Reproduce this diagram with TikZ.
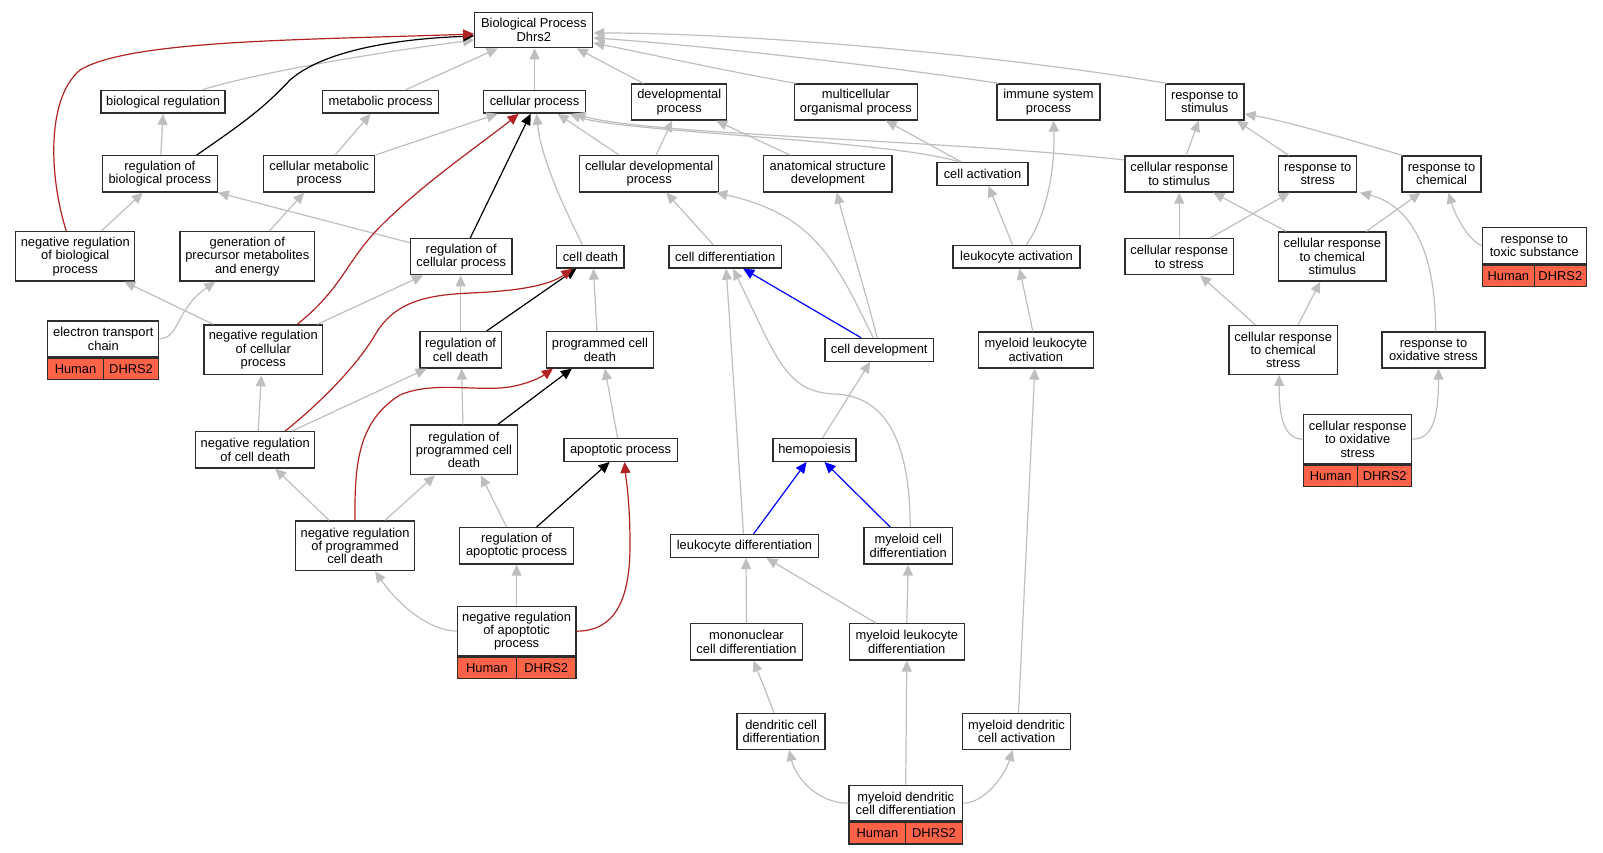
\documentclass[tikz,border=0pt]{standalone}
\usepackage{fontspec}
\setmainfont{Liberation Sans}
\usetikzlibrary{arrows.meta,calc}
\newcommand\gofont{\fontsize{12.9}{13.4}\selectfont}
\definecolor{boxc}{RGB}{45,45,45}
\definecolor{edgegrey}{RGB}{190,190,190}
\definecolor{tomatoc}{RGB}{255,99,71}
\definecolor{redc}{RGB}{178,34,34}
\definecolor{bluec}{RGB}{0,0,255}
\tikzset{
  gobox/.style={draw=boxc, line width=1.3pt, fill=white, inner sep=0pt, align=center, font=\gofont},
  wh/.style 2 args={minimum width=#1pt, minimum height=#2pt},
  genecell/.style={draw=boxc, line width=1.3pt, fill=tomatoc, inner sep=0pt, font=\gofont, minimum height=21.6pt},
  tipa/.style={-{Triangle[length=11pt,width=10pt]}},
  ge/.style={draw=edgegrey, line width=1.2pt, tipa},
  be/.style={draw=black, line width=1.2pt, tipa},
  re/.style={draw=redc, line width=1.2pt, tipa},
  ue/.style={draw=bluec, line width=1.2pt, tipa},
}
\begin{document}
\begin{tikzpicture}[x=1pt,y=-1pt]
\useasboundingbox (0,0) rectangle (1603,853);
% nodes
\node[gobox, wh={118}{35.4}] (bp) at (533.8,30) {Biological Process\\Dhrs2};
\node[gobox, wh={124}{22.7}] (breg) at (163.1,101.8) {biological regulation};
\node[gobox, wh={116}{22.7}] (met) at (380.6,101.8) {metabolic process};
\node[gobox, wh={101.6}{22.7}] (cp) at (534.6,101.8) {cellular process};
\node[gobox, wh={95}{36}] (dev) at (679.2,102) {developmental\\process};
\node[gobox, wh={123}{36}] (multi) at (855.8,102) {multicellular\\organismal process};
\node[gobox, wh={103}{36}] (imm) at (1048.5,102) {immune system\\process};
\node[gobox, wh={78.7}{36}] (rstim) at (1204.7,102) {response to\\stimulus};
\node[gobox, wh={114.8}{36.3}] (rbp) at (159.8,173.8) {regulation of\\biological process};
\node[gobox, wh={111}{36.3}] (cmp) at (319.2,173.8) {cellular metabolic\\process};
\node[gobox, wh={139}{36.3}] (cdp) at (649.2,173.8) {cellular developmental\\process};
\node[gobox, wh={128.3}{36.3}] (asd) at (827.8,173.8) {anatomical structure\\development};
\node[gobox, wh={91}{22.7}] (cact) at (982.5,174) {cell activation};
\node[gobox, wh={108.3}{36}] (crs) at (1179.2,174) {cellular response\\to stimulus};
\node[gobox, wh={78}{36}] (rstr) at (1317.7,174) {response to\\stress};
\node[gobox, wh={79}{36}] (rchem) at (1441.5,174) {response to\\chemical};
\node[gobox, wh={119}{49.3}] (nrbp) at (75.3,256.3) {negative regulation\\of biological\\process};
\node[gobox, wh={134.8}{49.3}] (gen) at (247.3,256.3) {generation of\\precursor metabolites\\and energy};
\node[gobox, wh={101.6}{36}] (rcp) at (461.2,256.7) {regulation of\\cellular process};
\node[gobox, wh={67.2}{22.7}] (cd) at (590.4,256.7) {cell death};
\node[gobox, wh={112.3}{22.7}] (cdiff) at (725.2,256.7) {cell differentiation};
\node[gobox, wh={127}{22.7}] (lact) at (1016.5,256.7) {leukocyte activation};
\node[gobox, wh={108.3}{36}] (crstr) at (1179.2,256.7) {cellular response\\to stress};
\node[gobox, wh={107.3}{49}] (crcs) at (1332.3,256.5) {cellular response\\to chemical\\stimulus};
\node[gobox, wh={104}{36}] (rtox) at (1534.3,245.7) {response to\\toxic substance};
\node[genecell, minimum width=52pt, anchor=north west] (rtoxH) at (rtox.south west) {Human};
\node[genecell, minimum width=52pt, anchor=north east] (rtoxD) at (rtox.south east) {DHRS2};
\node[gobox, wh={111}{35.7}] (etc) at (103.3,338.8) {electron transport\\chain};
\node[genecell, minimum width=55.5pt, anchor=north west] (etcH) at (etc.south west) {Human};
\node[genecell, minimum width=55.5pt, anchor=north east] (etcD) at (etc.south east) {DHRS2};
\node[gobox, wh={118.6}{49.7}] (nrcp) at (263.3,349.8) {negative regulation\\of cellular\\process};
\node[gobox, wh={81.2}{36.3}] (rcd) at (460.6,349.8) {regulation of\\cell death};
\node[gobox, wh={107}{36.3}] (pcd) at (599.9,349.8) {programmed cell\\death};
\node[gobox, wh={108.3}{22.7}] (cdev) at (879.2,349.8) {cell development};
\node[gobox, wh={115}{36}] (mlact) at (1035.8,350) {myeloid leukocyte\\activation};
\node[gobox, wh={108.3}{49}] (crcst) at (1283.2,349.8) {cellular response\\to chemical\\stress};
\node[gobox, wh={103}{36}] (rox) at (1433.5,350) {response to\\oxidative stress};
\node[gobox, wh={119}{36.3}] (nrcd) at (255.2,449.8) {negative regulation\\of cell death};
\node[gobox, wh={107}{49.7}] (rpcd) at (463.9,449.8) {regulation of\\programmed cell\\death};
\node[gobox, wh={113.5}{22.7}] (apo) at (620.6,450) {apoptotic process};
\node[gobox, wh={83}{22.7}] (hemo) at (814.5,450) {hemopoiesis};
\node[gobox, wh={108}{49}] (crox) at (1357.7,439.2) {cellular response\\to oxidative\\stress};
\node[genecell, minimum width=54pt, anchor=north west] (croxH) at (crox.south west) {Human};
\node[genecell, minimum width=54pt, anchor=north east] (croxD) at (crox.south east) {DHRS2};
\node[gobox, wh={119}{49.7}] (nrpcd) at (355.1,545.8) {negative regulation\\of programmed\\cell death};
\node[gobox, wh={113.6}{36.3}] (rap) at (516.6,545.8) {regulation of\\apoptotic process};
\node[gobox, wh={148.3}{22.7}] (ldiff) at (744.5,546) {leukocyte differentiation};
\node[gobox, wh={88.3}{36.3}] (mcdiff) at (908.2,545.8) {myeloid cell\\differentiation};
\node[gobox, wh={118.6}{49}] (nrap) at (516.6,631.2) {negative regulation\\of apoptotic\\process};
\node[genecell, minimum width=59.3pt, anchor=north west] (nrapH) at (nrap.south west) {Human};
\node[genecell, minimum width=59.3pt, anchor=north east] (nrapD) at (nrap.south east) {DHRS2};
\node[gobox, wh={112.4}{36.3}] (mono) at (746.5,641.8) {mononuclear\\cell differentiation};
\node[gobox, wh={115.3}{36.3}] (mldiff) at (906.8,641.8) {myeloid leukocyte\\differentiation};
\node[gobox, wh={88}{36}] (dcd) at (781.1,731.3) {dendritic cell\\differentiation};
\node[gobox, wh={108}{36}] (mdca) at (1016.5,731.3) {myeloid dendritic\\cell activation};
\node[gobox, wh={113.2}{35.7}] (mdcd) at (905.7,803.2) {myeloid dendritic\\cell differentiation};
\node[genecell, minimum width=56.6pt, anchor=north west] (mdcdH) at (mdcd.south west) {Human};
\node[genecell, minimum width=56.6pt, anchor=north east] (mdcdD) at (mdcd.south east) {DHRS2};
% edges to Biological Process
\draw[ge] ($(breg.north)+(39,0)$) .. controls (260,72) and (380,52) .. ($(bp.west)+(0,10)$);
\draw[ge] ($(met.north)+(25,0)$) -- ($(bp.south)+(-36,0)$);
\draw[ge] (cp.north) -- (cp.north |- bp.south);
\draw[ge] ($(dev.north)+(-36,0)$) -- ($(bp.south)+(43,0)$);
\draw[ge] ($(multi.north)+(-60,0)$) .. controls (720,70) and (640,52) .. ($(bp.east)+(0,13)$);
\draw[ge] ($(imm.north)+(-50,0)$) .. controls (900,68) and (700,45) .. ($(bp.east)+(0,8)$);
\draw[ge] ($(rstim.north)+(-38,0)$) .. controls (1000,55) and (750,33) .. ($(bp.east)+(0,3)$);
\draw[be] ($(rbp.north)+(37,0)$) .. controls (240,125) and (262,110) .. (290,80) .. controls (330,45) and (420,38) .. ($(bp.west)+(0,6)$);
\draw[re] ($(nrbp.north)+(-9,0)$) .. controls (50,180) and (45,100) .. (80,70) .. controls (130,40) and (300,40) .. ($(bp.west)+(0,4)$);
% row 3 -> row 2
\draw[ge] ($(rbp.north)+(1,0)$) -- (breg.south);
\draw[ge] ($(cmp.north)+(16,0)$) -- ($(met.south)+(-10,0)$);
\draw[ge] (cmp.north east) -- ($(cp.south)+(-37,0)$);
\draw[ge] ($(cdp.north west)+(40,0)$) -- ($(cp.south)+(23,0)$);
\draw[ge] ($(cdp.north)+(7,0)$) -- ($(dev.south)+(-7,0)$);
\draw[ge] ($(asd.north)+(-38,0)$) -- ($(dev.south)+(37,0)$);
\draw[ge] ($(cact.north)+(-21,0)$) -- ($(multi.south)+(30,0)$);
\draw[ge] ($(cact.north)+(-23,0)$) .. controls (890,140) and (620,132) .. ($(cp.south)+(35,0)$);
\draw[ge] ($(crs.west)+(0,-14)$) .. controls (950,140) and (650,135) .. ($(cp.south)+(40,0)$);
\draw[ge] ($(crs.north)+(7,0)$) -- ($(rstim.south)+(-6,0)$);
\draw[ge] ($(rstr.north)+(-29,0)$) -- ($(rstim.south)+(32,0)$);
\draw[ge] ($(rchem.north)+(-39,0)$) .. controls (1350,140) and (1290,122) .. ($(rstim.east)+(0,12)$);
% row 4
\draw[ge] ($(nrbp.north)+(26,0)$) -- ($(rbp.south)+(-17,0)$);
\draw[ge] ($(gen.north)+(22,0)$) -- ($(cmp.south)+(-15,0)$);
\draw[ge] ($(rcp.west)+(0,-14)$) -- (rbp.south east);
\draw[be] ($(rcp.north)+(9,0)$) -- ($(cp.south)+(-4,0)$);
\draw[ge] ($(cd.north)+(-8,0)$) .. controls (555,190) and (540,150) .. ($(cp.south)+(2,0)$);
\draw[ge] ($(cdiff.north)+(-12,0)$) -- ($(cdp.south)+(17,0)$);
\draw[ge] ($(lact.north)+(-4,0)$) -- ($(cact.south)+(6,0)$);
\draw[ge] ($(lact.north)+(10,0)$) .. controls (1050,210) and (1055,160) .. ($(imm.south)+(5,0)$);
\draw[ge] (crstr.north) -- (crs.south);
\draw[ge] ($(crstr.north)+(31,0)$) -- ($(rstr.south)+(-28,0)$);
\draw[ge] ($(crcs.north)+(-46,0)$) -- ($(crs.south)+(34,0)$);
\draw[ge] ($(crcs.north)+(34,0)$) -- ($(rchem.south)+(-21,0)$);
\draw[ge] (rtox.west) .. controls (1468,240) and (1455,215) .. ($(rchem.south)+(7,0)$);
% row 5
\draw[ge] (etc.east) .. controls (180,338) and (175,310) .. ($(gen.south)+(-32,0)$);
\draw[ge] ($(nrcp.north)+(-50,0)$) -- ($(nrbp.south)+(49,0)$);
\draw[ge] ($(nrcp.north)+(54,0)$) -- ($(rcp.south)+(-38,0)$);
\draw[re] ($(nrcp.north)+(34,0)$) .. controls (340,290) and (345,265) .. (375,232) .. controls (420,185) and (480,145) .. ($(cp.south)+(-16,0)$);
\draw[ge] (rcd.north) -- (rcd.north |- rcp.south);
\draw[be] ($(rcd.north)+(26,0)$) -- ($(cd.south)+(-14,0)$);
\draw[ge] ($(pcd.north)+(-3,0)$) -- ($(cd.south)+(3,0)$);
\draw[ge] ($(cdev.north)+(-6,0)$) .. controls (835,260) and (815,215) .. ($(cdp.south)+(67,0)$);
\draw[ge] ($(cdev.north)+(-2,0)$) .. controls (865,290) and (845,225) .. ($(asd.south)+(9,0)$);
\draw[ue] ($(cdev.north)+(-18,0)$) -- ($(cdiff.south)+(18,0)$);
\draw[ge] ($(mlact.north)+(-3,0)$) -- ($(lact.south)+(3,0)$);
\draw[ge] ($(crcst.north)+(-28,0)$) -- ($(crstr.south)+(21,0)$);
\draw[ge] ($(crcst.north)+(15,0)$) -- ($(crcs.south)+(-12,0)$);
\draw[ge] ($(rox.north)+(2,0)$) .. controls (1436,250) and (1410,205) .. ($(rstr.south)+(42,0)$);
% row 6
\draw[ge] ($(nrcd.north)+(3,0)$) -- ($(nrcp.south)+(-2,0)$);
\draw[ge] ($(nrcd.north)+(37,0)$) -- ($(rcd.south)+(-34,0)$);
\draw[re] ($(nrcd.north)+(30,0)$) .. controls (330,395) and (360,360) .. (375,335) .. controls (395,300) and (430,295) .. (470,293) .. controls (520,291) and (550,285) .. ($(cd.south)+(-18,0)$);
\draw[ge] ($(rpcd.north)+(-1,0)$) -- ($(rcd.south)+(1,0)$);
\draw[be] ($(rpcd.north)+(34,0)$) -- ($(pcd.south)+(-28,0)$);
\draw[ge] ($(apo.north)+(-3,0)$) -- ($(pcd.south)+(5,0)$);
\draw[ge] ($(hemo.north)+(8,0)$) -- ($(cdev.south)+(-9,0)$);
\draw[ge] (crox.west) .. controls (1285,439) and (1279,420) .. ($(crcst.south)+(-4,0)$);
\draw[ge] (crox.east) .. controls (1432,439) and (1438.5,420) .. ($(rox.south)+(5,0)$);
% row 7
\draw[ge] ($(nrpcd.north)+(-26,0)$) -- ($(nrcd.south)+(20,0)$);
\draw[ge] ($(nrpcd.north)+(30,0)$) -- ($(rpcd.south)+(-29,0)$);
\draw[re] (nrpcd.north) .. controls (354,460) and (360,420) .. (400,395) .. controls (430,382) and (470,390) .. (500,388) .. controls (520,387) and (540,378) .. ($(pcd.south)+(-47,0)$);
\draw[ge] ($(rap.north)+(-10,0)$) -- ($(rpcd.south)+(17,0)$);
\draw[be] ($(rap.north)+(20,0)$) -- ($(apo.south)+(-11,0)$);
\draw[ue] ($(ldiff.north)+(9,0)$) -- ($(hemo.south)+(-8,0)$);
\draw[ge] ($(ldiff.north)+(-1,0)$) -- ($(cdiff.south)+(1,0)$);
\draw[ue] ($(mcdiff.north)+(-18,0)$) -- ($(hemo.south)+(10,0)$);
\draw[ge] ($(mcdiff.north)+(2,0)$) .. controls (910,440) and (885,396) .. (835,394) .. controls (800,393) and (785,375) .. (765,335) -- ($(cdiff.south)+(8,0)$);
% row 8
\draw[ge] (nrap.north) -- (rap.south);
\draw[ge] (nrap.west) .. controls (425,630) and (395,600) .. ($(nrpcd.south)+(20,0)$);
\draw[re] (nrap.east) .. controls (615,631) and (630,600) .. (630,545) .. controls (630,500) and (626,480) .. ($(apo.south)+(4,0)$);
\draw[ge] (mono.north) -- ($(ldiff.south)+(1.5,0)$);
\draw[ge] ($(mldiff.north)+(-31,0)$) -- ($(ldiff.south)+(22,0)$);
\draw[ge] (mldiff.north) -- (mcdiff.south);
% row 9-10
\draw[ge] ($(dcd.north)+(-7,0)$) -- ($(mono.south)+(7,0)$);
\draw[ge] ($(mdca.north)+(2,0)$) -- ($(mlact.south)+(-1,0)$);
\draw[ge] (mdcd.west) .. controls (815,803) and (795,775) .. ($(dcd.south)+(8,0)$);
\draw[ge] (mdcd.north) -- (mldiff.south);
\draw[ge] (mdcd.east) .. controls (985,803) and (1005,775) .. ($(mdca.south)+(-4,0)$);
\end{tikzpicture}
\end{document}
